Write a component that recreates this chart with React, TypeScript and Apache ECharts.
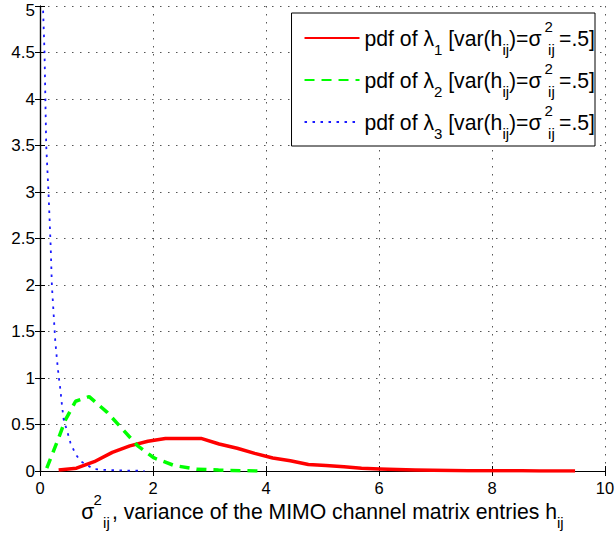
import React, { useEffect, useRef } from "react";
import * as echarts from "echarts";

// x positions / pdf values
const lambda1X = [0.33, 0.645, 0.96, 1.28, 1.59, 1.91, 2.22, 2.54, 2.85, 3.17, 3.49, 3.8, 4.12, 4.43, 4.75, 5.06, 5.38, 5.69, 6.01, 6.32, 6.64, 6.95, 7.27, 7.58, 7.9, 8.21, 8.53, 8.84, 9.16, 9.47];
const lambda1Y = [0.01, 0.03, 0.1, 0.2, 0.27, 0.32, 0.35, 0.35, 0.35, 0.29, 0.245, 0.19, 0.14, 0.11, 0.07, 0.06, 0.045, 0.03, 0.022, 0.015, 0.01, 0.008, 0.006, 0.004, 0.003, 0.002, 0.002, 0.001, 0.001, 0.001];

const lambda2X = [0.12, 0.32, 0.45, 0.63, 0.87, 1.19, 1.46, 1.73, 2.02, 2.37, 2.77, 3.16, 3.55, 3.95];
const lambda2Y = [0.03, 0.34, 0.55, 0.75, 0.8, 0.63, 0.45, 0.27, 0.14, 0.06, 0.02, 0.01, 0.003, 0.0];

const lambda3X = [0.055, 0.08, 0.11, 0.15, 0.19, 0.21, 0.23, 0.27, 0.3, 0.33, 0.36, 0.39, 0.42, 0.48, 0.54, 0.63, 0.72, 0.84, 0.96, 1.2, 1.5, 1.85];
const lambda3Y = [4.95, 4.5, 3.5, 3.0, 2.4, 2.0, 1.8, 1.4, 1.2, 1.02, 0.88, 0.7, 0.55, 0.43, 0.3, 0.18, 0.105, 0.06, 0.02, 0.01, 0.005, 0.002];

const xTicks = { min: 0, max: 10, interval: 2 };
const yTicks = { min: 0, max: 5, interval: 0.5 };

const seriesNames = ["λ1", "λ2", "λ3"];
const seriesSubs = ["1", "2", "3"];

const FONT = "Liberation Sans, Arial, Helvetica, sans-serif";

function makeRich(main: number, supLH: number) {
  return {
    m: { fontSize: main, fontFamily: FONT, color: "#000", lineHeight: 38, verticalAlign: "middle" },
    s: { fontSize: 15, fontFamily: FONT, color: "#000", lineHeight: 10, verticalAlign: "bottom" },
    q: { fontSize: 15, fontFamily: FONT, color: "#000", lineHeight: 10, verticalAlign: "bottom", width: 11, padding: [0, 0, 0, 3] },
    p: { fontSize: 15, fontFamily: FONT, color: "#000", lineHeight: supLH, verticalAlign: "top", width: 0.5, padding: [0, 0, 0, 3] },
  };
}

function pairs(xs: number[], ys: number[]) {
  return xs.map((x, i) => [x, ys[i]]);
}

export default function App() {
  const ref = useRef<HTMLDivElement>(null);
  useEffect(() => {
    if (!ref.current) return;
    const chart = echarts.init(ref.current, null, { renderer: "svg" });
    const gridLine = { show: true, lineStyle: { color: "#555", width: 1, type: [1.5, 6.5] } };
    const axisLine = { show: true, lineStyle: { color: "#000", width: 1.2 } };
    const axisTick = { show: true, inside: true, length: 5, lineStyle: { color: "#000", width: 1 } };
    const option: any = {
      animation: false,
      backgroundColor: "#fff",
      grid: { left: 40, right: 11, top: 6, bottom: 68, containLabel: false, outerBoundsMode: "none" },
      legend: {
        show: true,
        orient: "vertical",
        right: 21,
        top: 13,
        padding: [6, 0, 5, 12],
        itemGap: 4,
        itemWidth: 55,
        itemHeight: 14,
        backgroundColor: "#fff",
        borderColor: "#000",
        borderWidth: 1,
        borderRadius: 0,
        itemStyle: { opacity: 0, borderWidth: 0 },
        data: seriesNames,
        formatter: (name: string) => {
          const idx = seriesNames.indexOf(name);
          return `{m|pdf of λ}{s|${seriesSubs[idx]}}{m| [var(h}{s|ij}{m|)=σ}{p|2}{q|ij}{m|=.5]}`;
        },
        textStyle: { rich: makeRich(21.2, 27) },
      },
      xAxis: [
        {
          type: "value",
          position: "bottom",
          min: xTicks.min,
          max: xTicks.max,
          interval: xTicks.interval,
          axisLine,
          axisTick,
          splitLine: gridLine,
          axisLabel: { color: "#000", fontSize: 16.5, fontFamily: FONT, margin: 8 },
          name: "{m|σ}{p|2}{q|ij}{m|, variance of the MIMO channel matrix entries h}{s|ij}",
          nameLocation: "middle",
          nameGap: 21,
          nameMoveOverlap: false,
          nameTextStyle: { rich: makeRich(21.2, 23) },
        },
        {
          type: "value",
          position: "top",
          min: xTicks.min,
          max: xTicks.max,
          interval: xTicks.interval,
          axisLine,
          axisTick,
          splitLine: { show: false },
          axisLabel: { show: false },
        },
      ],
      yAxis: [
        {
          type: "value",
          position: "left",
          min: yTicks.min,
          max: yTicks.max,
          interval: yTicks.interval,
          axisLine,
          axisTick,
          splitLine: gridLine,
          axisLabel: {
            color: "#000",
            fontSize: 17,
            fontFamily: FONT,
            margin: 5,
            formatter: (v: number) => (v === yTicks.max ? `{t|${v}}` : String(v)),
            rich: { t: { fontSize: 17, fontFamily: FONT, color: "#000", padding: [9, 0, 0, 0] } },
          },
        },
        {
          type: "value",
          position: "right",
          min: yTicks.min,
          max: yTicks.max,
          interval: yTicks.interval,
          axisLine,
          axisTick,
          splitLine: { show: false },
          axisLabel: { show: false },
        },
      ],
      series: [
        {
          name: seriesNames[0],
          type: "line",
          data: pairs(lambda1X, lambda1Y),
          symbol: "none",
          showSymbol: false,
          lineStyle: { color: "#ff0000", width: 3.5, type: "solid", join: "round" },
          itemStyle: { color: "#ff0000" },
          z: 3,
        },
        {
          name: seriesNames[1],
          type: "line",
          data: pairs(lambda2X, lambda2Y),
          symbol: "none",
          showSymbol: false,
          lineStyle: { color: "#00ff00", width: 3.5, type: [10, 7] },
          itemStyle: { color: "#00ff00" },
          z: 4,
        },
        {
          name: seriesNames[2],
          type: "line",
          data: pairs(lambda3X, lambda3Y),
          symbol: "none",
          showSymbol: false,
          lineStyle: { color: "#1a1aff", width: 1.8, type: [2.5, 5.5] },
          itemStyle: { color: "#1a1aff" },
          z: 5,
        },
      ],
    };
    chart.setOption(option);
    return () => chart.dispose();
  }, []);
  return (
    <div
      ref={ref}
      style={{ position: "fixed", left: 0, top: 0, width: 616, height: 539, background: "#fff" }}
    />
  );
}
